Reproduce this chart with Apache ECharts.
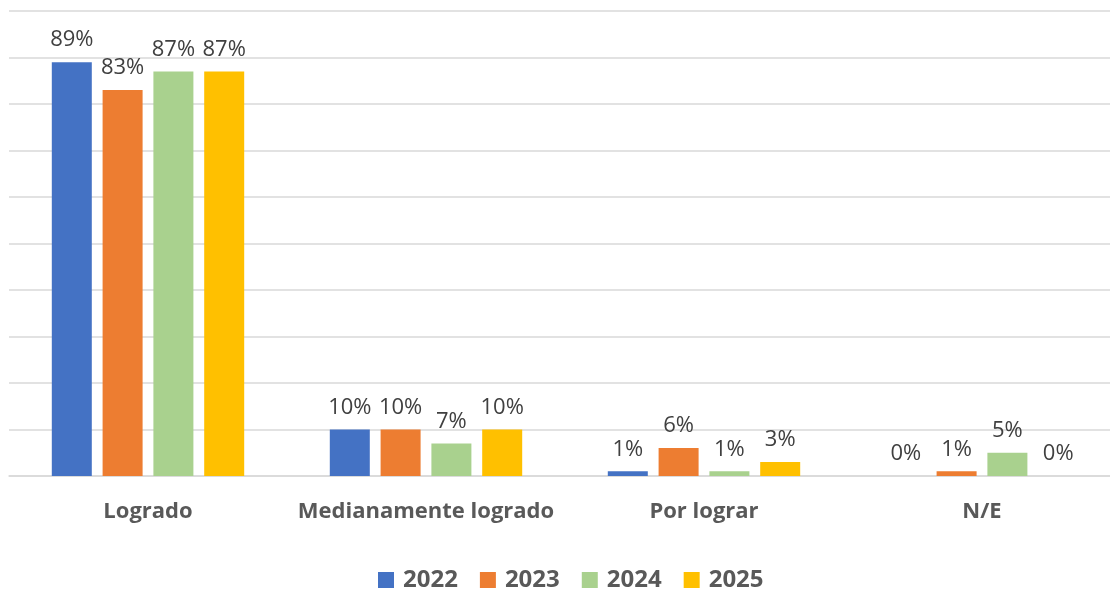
<html>
<head>
	<meta charset="utf-8">
</head>
<body style="margin:0">
	<div id="main" style="width:1110px;height:590px;"></div>
	<script src="https://cdn.jsdelivr.net/npm/echarts@6/dist/echarts.min.js"></script>
	<script>
		var categories = ['Logrado', 'Medianamente logrado', 'Por lograr', 'N/E'];
		var years = ['2022', '2023', '2024', '2025'];
		var v2022 = [89, 10, 1, 0];
		var v2023 = [83, 10, 6, 1];
		var v2024 = [87, 7, 1, 5];
		var v2025 = [87, 10, 3, 0];
		var colors = ['#4472C4', '#ED7D31', '#A9D18E', '#FFC000'];

		var myChart = echarts.init(document.getElementById('main'), null, { renderer: 'canvas' });
		var font = '"Open Sans", "Liberation Sans", sans-serif';

		function mkSeries(name, data, color) {
			return {
				name: name,
				type: 'bar',
				data: data,
				barWidth: 40,
				barGap: '27%',
				itemStyle: { color: color },
				label: {
					show: true,
					position: 'top',
					distance: 11,
					formatter: '{c}%',
					fontFamily: font,
					fontSize: 22,
					color: '#404040'
				}
			};
		}

		var option = {
			animation: false,
			backgroundColor: '#ffffff',
			grid: { left: 9, top: 11, width: 1112, height: 465, outerBoundsMode: 'none' },
			legend: {
				top: 563,
				left: 373,
				itemWidth: 16,
				itemHeight: 16,
				itemGap: 22,
				icon: 'rect',
				textStyle: { fontFamily: font, fontSize: 24, fontWeight: 'bold', color: '#595959', padding: [0, 0, 0, 4] },
				data: years
			},
			xAxis: {
				type: 'category',
				data: categories,
				axisLine: { lineStyle: { color: '#d9d9d9', width: 1.5 } },
				axisTick: { show: false },
				axisLabel: { interval: 0, margin: 25, fontFamily: font, fontSize: 22, fontWeight: 'bold', color: '#595959' }
			},
			yAxis: {
				type: 'value',
				min: 0,
				max: 100,
				interval: 10,
				axisLabel: { show: false },
				axisLine: { show: false },
				axisTick: { show: false },
				splitLine: { lineStyle: { color: '#d9d9d9', width: 1.5 } }
			},
			series: [
				mkSeries(years[0], v2022, colors[0]),
				mkSeries(years[1], v2023, colors[1]),
				mkSeries(years[2], v2024, colors[2]),
				mkSeries(years[3], v2025, colors[3])
			]
		};
		myChart.setOption(option);
	</script>
</body>
</html>
